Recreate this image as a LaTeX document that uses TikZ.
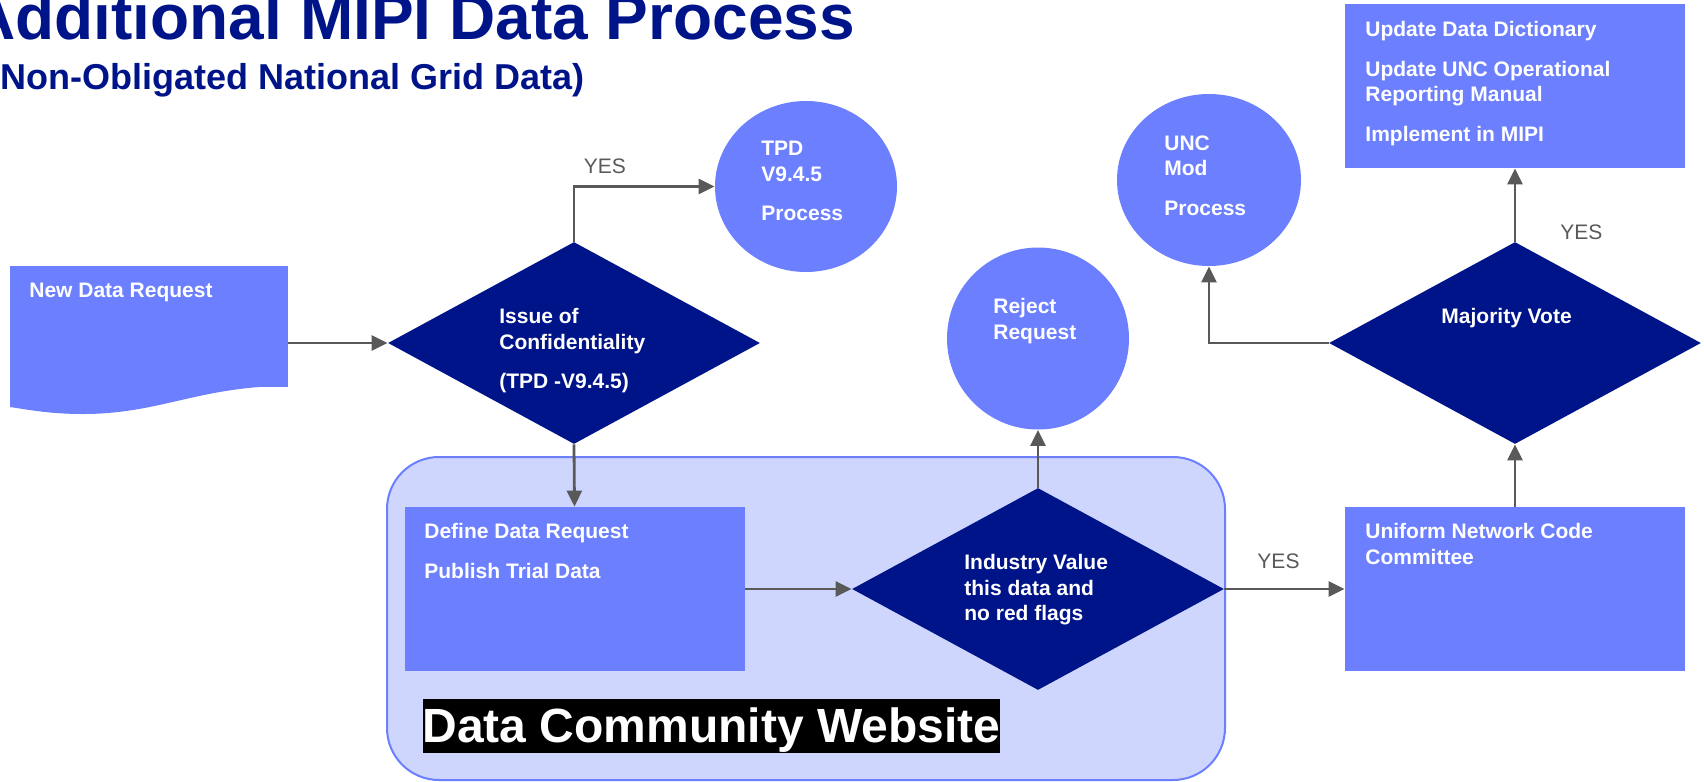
\documentclass[tikz,border=0pt]{standalone}
\usepackage{fontspec}
\setmainfont{Liberation Sans}
\usetikzlibrary{shapes.geometric, arrows.meta, positioning}

\definecolor{mipiblue}{RGB}{107,127,255}
\definecolor{mipinavy}{RGB}{0,20,137}
\definecolor{sitefill}{RGB}{207,214,253}
\definecolor{linkgray}{RGB}{89,89,89}

\begin{document}
\begin{tikzpicture}[
    x=0.5pt, y=-0.5pt,
    % Shapes
    procbox/.style={rectangle, fill=mipiblue, inner sep=0pt, minimum width=170pt, minimum height=82pt},
    decision/.style={diamond, fill=mipinavy, inner sep=0pt, minimum width=186pt, minimum height=101pt},
    bubble/.style={ellipse, fill=mipiblue, inner sep=0pt, minimum width=91pt, minimum height=85.5pt},
    site/.style={rectangle, draw=mipiblue, line width=1pt, fill=sitefill, rounded corners=26pt, minimum width=419pt, minimum height=161.5pt},
    % Texts
    shapetext/.style={anchor=north west, inner sep=0pt, align=left, text=white, font=\fontsize{10.5}{12.75}\selectfont\bfseries},
    yeslabel/.style={inner sep=0pt, text=linkgray, font=\fontsize{10.5}{12.6}\selectfont},
    heading/.style={anchor=base west, inner sep=0pt, text=mipinavy},
    sitelabel/.style={fill=black, text=white, inner sep=0pt, text height=21.7pt, text depth=5.1pt, font=\fontsize{24}{28}\selectfont\bfseries},
    % Connectors
    flow/.style={draw=linkgray, line width=1.4pt, -{Triangle[length=8pt,width=7.5pt]}},
]
\useasboundingbox (0,0) rectangle (1704,782);

% Title
\node[heading, font=\fontsize{32}{38}\selectfont\bfseries] (title) at (-31,39) {Additional MIPI Data Process};
\node[heading, font=\fontsize{18}{22}\selectfont\bfseries] (subtitle) at (-12,89) {(Non-Obligated National Grid Data)};

% === DATA COMMUNITY WEBSITE ===
\node[site] (web) at (806,618.5) {};
\node[sitelabel] (weblabel) at (711.5,726) {Data Community Website};

% === SHAPES ===
\node[procbox, minimum width=139pt, minimum height=60.5pt] (req) at (149,326.5) {};
\fill[mipiblue] (288,386) .. controls (200,386) and (160,414) .. (83,414) .. controls (50,414) and (30,410) .. (10,407) -- (10,386) -- cycle;

\node[decision] (conf) at (574,343) {};
\node[bubble] (tpd) at (806,186.5) {};
\node[procbox] (def) at (574.5,589) {};
\node[decision] (ind) at (1038,589) {};
\node[bubble, minimum height=91pt] (rej) at (1038,338.5) {};
\node[procbox] (unc) at (1515,589) {};
\node[decision] (maj) at (1515,343) {};
\node[bubble, minimum width=92pt, minimum height=86pt] (mod) at (1209,180) {};
\node[procbox] (upd) at (1515,86) {};

% === TEXTS ===
\node[shapetext] (reqtxt) at (29,283) {New Data Request};
\node[shapetext] (conftxt) at (499,308) {Issue of\\Confidentiality\\[7pt](TPD -V9.4.5)};
\node[shapetext] (tpdtxt) at (761,141) {TPD\\V9.4.5\\[7pt]Process};
\node[shapetext] (deftxt) at (424,523) {Define Data Request\\[7pt]Publish Trial Data};
\node[shapetext] (indtxt) at (964,554) {Industry Value\\this data and\\no red flags};
\node[shapetext] (rejtxt) at (993,298) {Reject\\Request};
\node[shapetext] (unctxt) at (1365,523) {Uniform Network Code\\Committee};
\node[shapetext] (majtxt) at (1441,308) {Majority Vote};
\node[shapetext] (modtxt) at (1164,135) {UNC\\Mod\\[7pt]Process};
\node[shapetext] (updtxt) at (1365,21) {Update Data Dictionary\\[7pt]Update UNC Operational\\Reporting Manual\\[7pt]Implement in MIPI};

% === CONNECTORS ===
\draw[flow] (req.east |- conf.west) -- (conf.west);
\draw[flow] (conf.north) |- (tpd.west) node[yeslabel, pos=0.61, above=5.5pt] {YES};
\draw[flow] (conf.south) -- (def.north);
\draw[flow] (def.east) -- (ind.west);
\draw[flow] (ind.north) -- (rej.south);
\draw[flow] (ind.east) -- (unc.west) node[yeslabel, pos=0.45, above=9.5pt] {YES};
\draw[flow] (unc.north) -- (maj.south);
\draw[flow] (maj.north) -- (upd.south) node[yeslabel, pos=0.13, right=22pt] {YES};
\draw[flow] (maj.west) -| (mod.south);

\end{tikzpicture}
\end{document}
